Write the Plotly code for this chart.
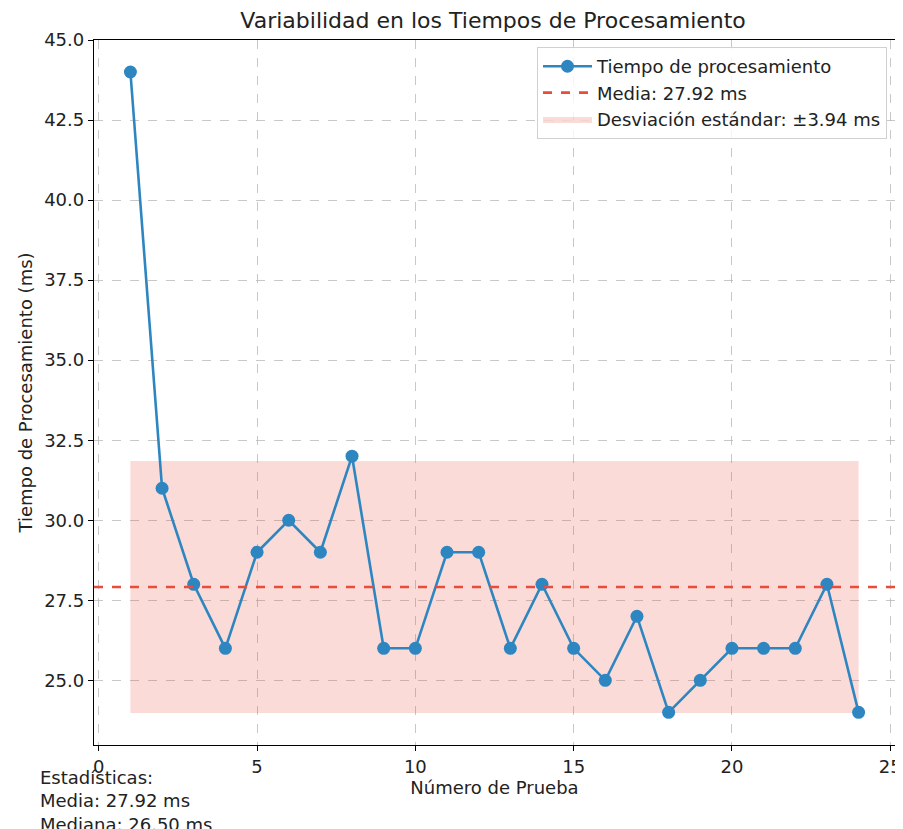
import numpy as np
import plotly.graph_objects as go

# Datos de las pruebas
pruebas = list(range(1, 25))
tiempos_ms = [44, 31, 28, 26, 29, 30, 29, 32, 26, 26, 29, 29,
              26, 28, 26, 25, 27, 24, 25, 26, 26, 26, 28, 24]

media = float(np.mean(tiempos_ms))
mediana = float(np.median(tiempos_ms))
desv = float(np.std(tiempos_ms))

AZUL = '#2E86C1'
ROJO = '#E74C3C'
FUENTE = 'DejaVu Sans'

fig = go.Figure()

# Banda de desviación estándar (fill_between de x=1 a x=24)
x0, x1 = pruebas[0], pruebas[-1]
fig.add_trace(go.Scatter(
    x=[x0, x1, x1, x0, x0],
    y=[media - desv, media - desv, media + desv, media + desv, media - desv],
    fill='toself', fillcolor='rgba(231,76,60,0.2)',
    line=dict(width=0), mode='lines', hoverinfo='skip',
    name=f'Desviación estándar: ±{desv:.2f} ms', legendrank=3,
))

fig.add_trace(go.Scatter(
    x=pruebas, y=tiempos_ms, mode='lines+markers',
    line=dict(color=AZUL, width=2.6), marker=dict(color=AZUL, size=13),
    name='Tiempo de procesamiento', legendrank=1,
))

fig.add_shape(
    type='line', xref='paper', x0=0, x1=1, y0=media, y1=media,
    line=dict(color=ROJO, width=2.6, dash='dash'),
    showlegend=True, name=f'Media: {media:.2f} ms', legendrank=2,
)

eje = dict(
    showline=True, linecolor='black', linewidth=1.3, mirror=True,
    ticks='outside', ticklen=5, tickcolor='black',
    showgrid=True, gridcolor='rgba(176,176,176,0.7)', griddash='dash', gridwidth=1,
    zeroline=False, tickfont=dict(size=18, color='#222'), automargin=False,
)

fig.update_xaxes(eje, range=[-0.15, 25.15], tick0=0, dtick=5,
                 title=dict(text='Número de Prueba', font=dict(size=18, color='#222'), standoff=4))
fig.update_yaxes(eje, range=[22.98, 45.0], tick0=25, dtick=2.5, tickformat='.1f',
                 title=dict(text='Tiempo de Procesamiento (ms)', font=dict(size=18, color='#222'), standoff=6))

fig.add_annotation(
    xref='paper', yref='paper', x=-0.07, y=-0.028, xanchor='left', yanchor='top',
    align='left', showarrow=False, font=dict(size=18, color='#222'),
    text=f'Estadísticas:<br>Media: {media:.2f} ms<br>Mediana: {mediana:.2f} ms',
)

# la página añade 8 px de margen al cuerpo: el lienzo se reduce en consecuencia
fig.update_layout(
    width=895, height=821,
    margin=dict(l=86, r=8, t=32, b=84, autoexpand=False),
    paper_bgcolor='white', plot_bgcolor='white',
    font=dict(family=FUENTE, color='#222'),
    title=dict(text='Variabilidad en los Tiempos de Procesamiento',
               x=0.542, xanchor='center', y=0.985, yanchor='middle',
               font=dict(size=22, color='#222')),
    legend=dict(x=0.99, y=0.99, xanchor='right', yanchor='top',
                bgcolor='rgba(255,255,255,0.8)', bordercolor='#d0d0d0', borderwidth=1,
                font=dict(size=18, color='#222'), tracegroupgap=2, itemwidth=49),
    showlegend=True,
)

fig.write_html("out.html")
